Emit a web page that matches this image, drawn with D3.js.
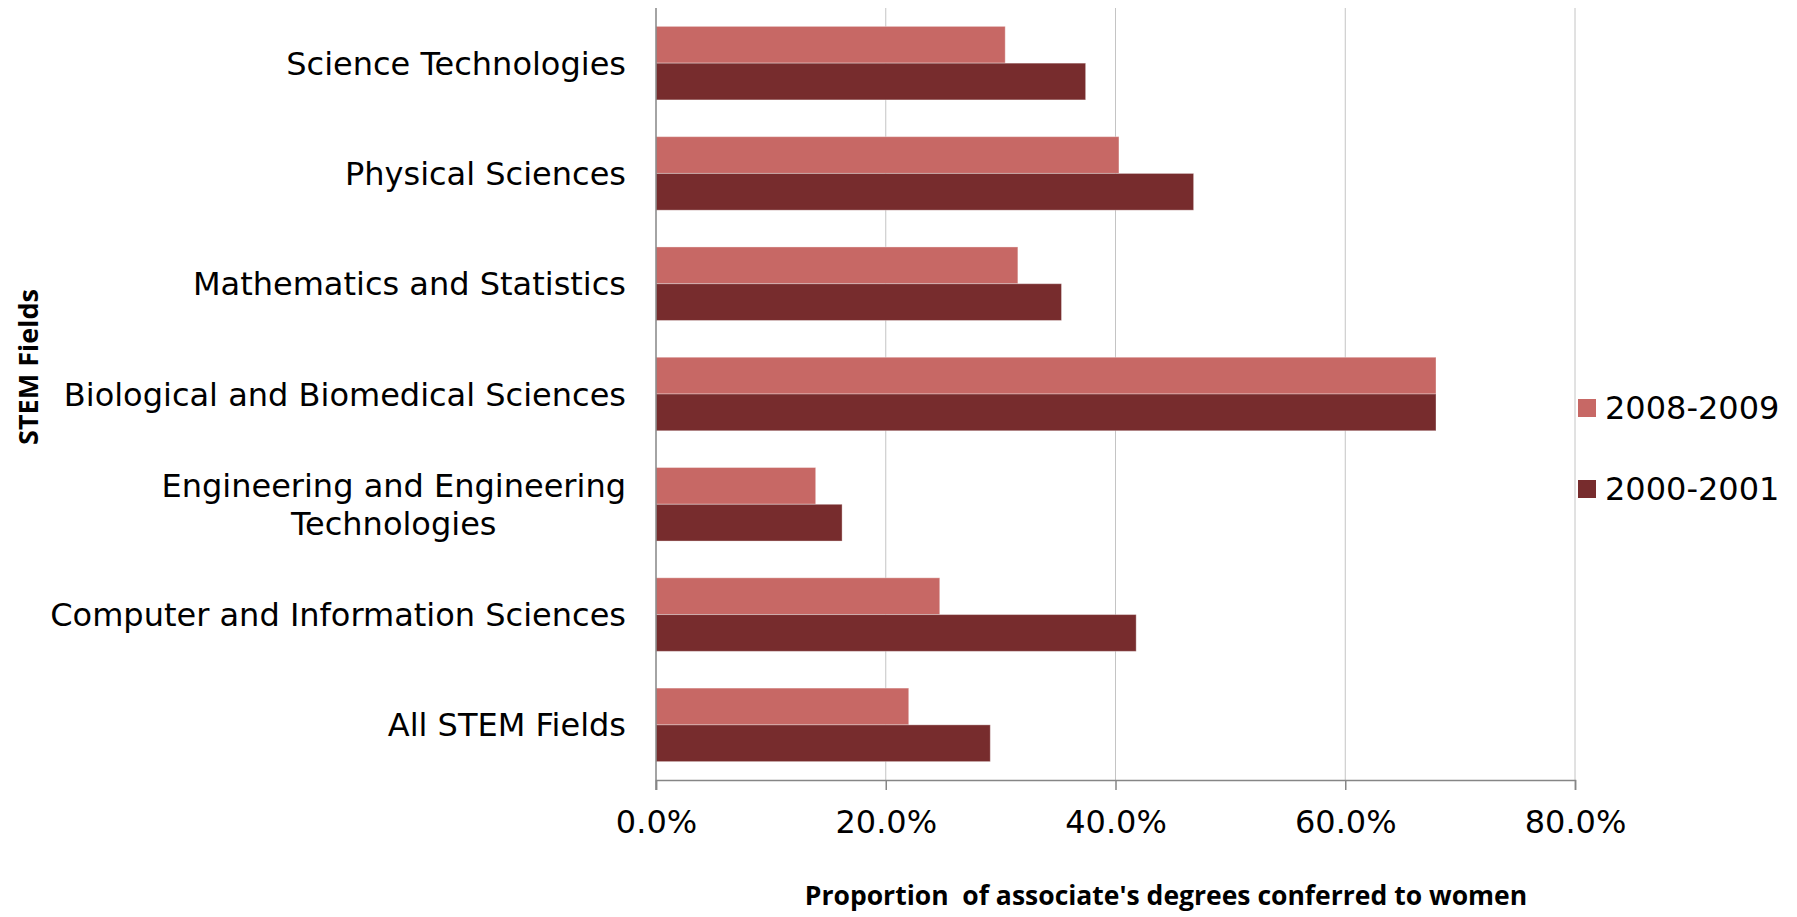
<!DOCTYPE html>
<html>
<head>
<meta charset="utf-8">
<script src="https://cdn.jsdelivr.net/npm/d3@7"></script>
<style>
  body { margin: 0; background: #fff; }
  text { font-family: "DejaVu Sans", Verdana, sans-serif; fill: #000; }
</style>
</head>
<body>
<svg></svg>
<script>
const categories = [
  "Science Technologies",
  "Physical Sciences",
  "Mathematics and Statistics",
  "Biological and Biomedical Sciences",
  "Engineering and Engineering Technologies",
  "Computer and Information Sciences",
  "All STEM Fields"
];
const series = ["2008-2009", "2000-2001"];
const values2008 = [30.4, 40.3, 31.5, 67.9, 13.9, 24.7, 22.0];
const values2000 = [37.4, 46.8, 35.3, 67.9, 16.2, 41.8, 29.1];
const xTicks = [0, 20, 40, 60, 80];

const LIGHT = "#C76865";
const DARK = "#772C2D";
const colors = [LIGHT, DARK];

const width = 1797;
const height = 917;

const svg = d3.select("svg")
  .attr("width", width)
  .attr("height", height);

const x = d3.scaleLinear().domain([0, 80]).range([656, 1575]);

const y = d3.scaleBand()
  .domain(categories)
  .range([8, 780])
  .paddingInner(1 / 3)
  .paddingOuter(1 / 6);

const ySub = d3.scaleBand()
  .domain(series)
  .range([0, y.bandwidth()]);

// gridlines (not the zero line)
svg.append("g")
  .selectAll("line")
  .data(xTicks.slice(1))
  .enter().append("line")
  .attr("x1", d => x(d)).attr("x2", d => x(d))
  .attr("y1", 8).attr("y2", 780)
  .attr("stroke", "#c4c4c4")
  .attr("stroke-width", 1);

// bars
const rows = categories.map((c, i) => ({ cat: c, vals: [values2008[i], values2000[i]] }));

const groups = svg.append("g")
  .selectAll("g")
  .data(rows)
  .enter().append("g")
  .attr("transform", d => `translate(0,${y(d.cat)})`);

groups.selectAll("rect")
  .data(d => d.vals.map((v, j) => ({ s: series[j], v: v, c: colors[j] })))
  .enter().append("rect")
  .attr("x", x(0))
  .attr("y", d => ySub(d.s))
  .attr("width", d => x(d.v) - x(0))
  .attr("height", ySub.bandwidth())
  .attr("fill", d => d.c)
  .attr("stroke", "rgba(255,255,255,0.35)")
  .attr("stroke-width", 1);

// x axis
const xAxis = svg.append("g")
  .attr("transform", "translate(0,780)")
  .call(d3.axisBottom(x)
    .tickValues(xTicks)
    .tickSize(10)
    .tickPadding(20)
    .tickFormat(d => d3.format(".1f")(d) + "%"));

xAxis.select(".domain").attr("stroke", "#868686").attr("stroke-width", 1.5);
xAxis.selectAll(".tick line").attr("stroke", "#868686").attr("stroke-width", 1.5);
xAxis.selectAll(".tick text")
  .style("font-family", '"DejaVu Sans", Verdana, sans-serif')
  .style("font-size", "32px")
  .attr("fill", "#000");

// zero line
svg.append("line")
  .attr("x1", x(0)).attr("x2", x(0))
  .attr("y1", 8).attr("y2", 790)
  .attr("stroke", "#868686")
  .attr("stroke-width", 1.5);

// category labels, wrap the long ones
const labelSize = 32;
const labels = svg.append("g")
  .selectAll("text")
  .data(categories)
  .enter().append("text")
  .attr("text-anchor", "end")
  .style("font-size", labelSize + "px");

labels.each(function(d) {
  const t = d3.select(this);
  const cy = y(d) + y.bandwidth() / 2;
  t.text(d);
  const w = this.getComputedTextLength();
  if (w > 580) {
    // split into two lines, centred on each other
    const words = d.split(" ");
    const l1 = words.slice(0, 3).join(" ");
    const l2 = words.slice(3).join(" ");
    t.text(null);
    const tmp = t.append("tspan").text(l1);
    const w1 = tmp.node().getComputedTextLength();
    tmp.remove();
    const cx = 626 - w1 / 2;
    t.attr("text-anchor", "middle");
    t.append("tspan").attr("x", cx).attr("y", cy - 19 + labelSize * 0.36).text(l1);
    t.append("tspan").attr("x", cx).attr("y", cy + 19 + labelSize * 0.36).text(l2);
  } else {
    t.attr("x", 626).attr("y", cy + labelSize * 0.36);
  }
});

// axis titles
svg.append("text")
  .attr("transform", "translate(38,367) rotate(-90)")
  .attr("text-anchor", "middle")
  .style("font-family", '"Open Sans", sans-serif')
  .style("font-weight", "bold")
  .style("font-size", "27px")
  .text("STEM Fields");

svg.append("text")
  .attr("x", 1166)
  .attr("y", 905)
  .attr("text-anchor", "middle")
  .style("white-space", "pre")
  .style("font-family", '"Open Sans", sans-serif')
  .style("font-weight", "bold")
  .style("font-size", "26.5px")
  .text("Proportion  of associate's degrees conferred to women");

// legend
const legend = svg.append("g")
  .selectAll("g")
  .data(series)
  .enter().append("g")
  .attr("transform", (d, i) => `translate(1578,${399 + i * 81})`);

legend.append("rect")
  .attr("width", 18).attr("height", 18)
  .attr("fill", (d, i) => colors[i]);

legend.append("text")
  .attr("x", 27)
  .attr("y", 20)
  .style("font-size", "32px")
  .text(d => d);
</script>
</body>
</html>
